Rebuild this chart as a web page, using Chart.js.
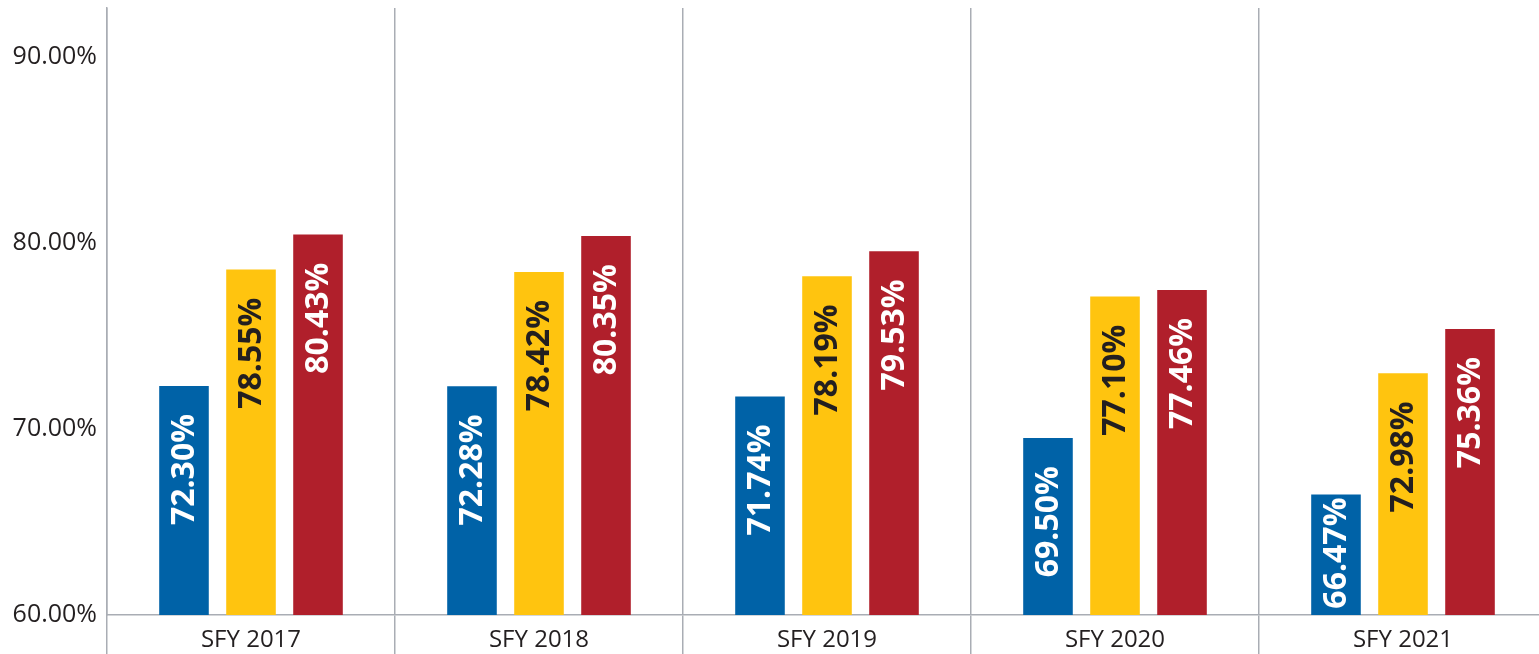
<!DOCTYPE html>
<html lang="en">
<head>
  <meta charset="UTF-8">
  <title>SFY Rates Chart</title>
  <style>
    html, body { margin: 0; padding: 0; background: #fff; overflow: hidden; }
    #wrap { width: 1547px; height: 654px; position: relative; }
  </style>
</head>
<body>

  <div id="wrap">
    <canvas id="barChart"></canvas>
  </div>

  <script src="https://cdn.jsdelivr.net/npm/chart.js@4.4.0/dist/chart.umd.min.js"></script>
  <script>
    // data
    const years = ['SFY 2017', 'SFY 2018', 'SFY 2019', 'SFY 2020', 'SFY 2021'];
    const blueValues = [72.30, 72.28, 71.74, 69.50, 66.47];
    const yellowValues = [78.55, 78.42, 78.19, 77.10, 72.98];
    const redValues = [80.43, 80.35, 79.53, 77.46, 75.36];
    const yTicks = [60, 70, 80, 90];

    const gridColor = '#a9adb4';
    const textColor = '#231f20';

    // draws the rotated value inside each bar, near its top
    const barLabels = {
      id: 'barLabels',
      afterDatasetsDraw(chart) {
        const ctx = chart.ctx;
        const bottom = chart.chartArea.bottom;
        ctx.save();
        ctx.font = 'bold 32px "Open Sans"';
        chart.data.datasets.forEach((ds, i) => {
          const meta = chart.getDatasetMeta(i);
          meta.data.forEach((bar, j) => {
            const txt = ds.data[j].toFixed(2) + '%';
            const w = ctx.measureText(txt).width;
            const h = bottom - bar.y;
            // keep short bars' labels inside the bar
            const gap = Math.max(3, Math.min(28, h - w - 8));
            ctx.save();
            ctx.translate(bar.x + 1, bar.y + gap);
            ctx.rotate(-Math.PI / 2);
            ctx.fillStyle = ds.labelColor;
            ctx.textAlign = 'right';
            ctx.textBaseline = 'middle';
            ctx.fillText(txt, 0, 0);
            ctx.restore();
          });
        });
        ctx.restore();
      }
    };

    const ctx = document.getElementById('barChart').getContext('2d');
    new Chart(ctx, {
      type: 'bar',
      data: {
        labels: years,
        datasets: [
          { label: 'Series 1', data: blueValues, backgroundColor: '#0062a7', labelColor: '#ffffff' },
          { label: 'Series 2', data: yellowValues, backgroundColor: '#ffc40f', labelColor: textColor },
          { label: 'Series 3', data: redValues, backgroundColor: '#b01f2b', labelColor: '#ffffff' },
        ],
      },
      options: {
        responsive: true,
        maintainAspectRatio: false,
        animation: false,
        categoryPercentage: 0.698,
        barPercentage: 0.74,
        layout: { padding: { top: 8, left: 0, right: 0, bottom: 0 } },
        scales: {
          x: {
            offset: true,
            grid: {
              offset: true,
              color: gridColor,
              lineWidth: 1.5,
              tickLength: 39,
            },
            border: { display: true, color: gridColor, width: 1.5 },
            ticks: {
              padding: -28,
              color: textColor,
              font: { family: '"Open Sans"', size: 24 },
            },
            afterFit: (scale) => {
              scale.height = 39;
              scale.paddingLeft = 0;
              scale.paddingRight = 0;
            },
          },
          y: {
            min: 60,
            max: 92.6,
            grid: { drawOnChartArea: false, drawTicks: false, color: gridColor },
            border: { display: true, color: gridColor, width: 1.5 },
            ticks: {
              stepSize: 10,
              includeBounds: false,
              padding: 10,
              color: textColor,
              font: { family: '"Open Sans"', size: 25 },
              callback: (v) => yTicks.includes(v) ? v.toFixed(2) + '%' : null,
            },
            afterFit: (scale) => {
              scale.width = 107;
              scale.paddingTop = 0;
              scale.paddingBottom = 0;
            },
          },
        },
        plugins: {
          legend: { display: false },
          tooltip: { enabled: false },
        },
      },
      plugins: [barLabels],
    });
  </script>
</body>
</html>
